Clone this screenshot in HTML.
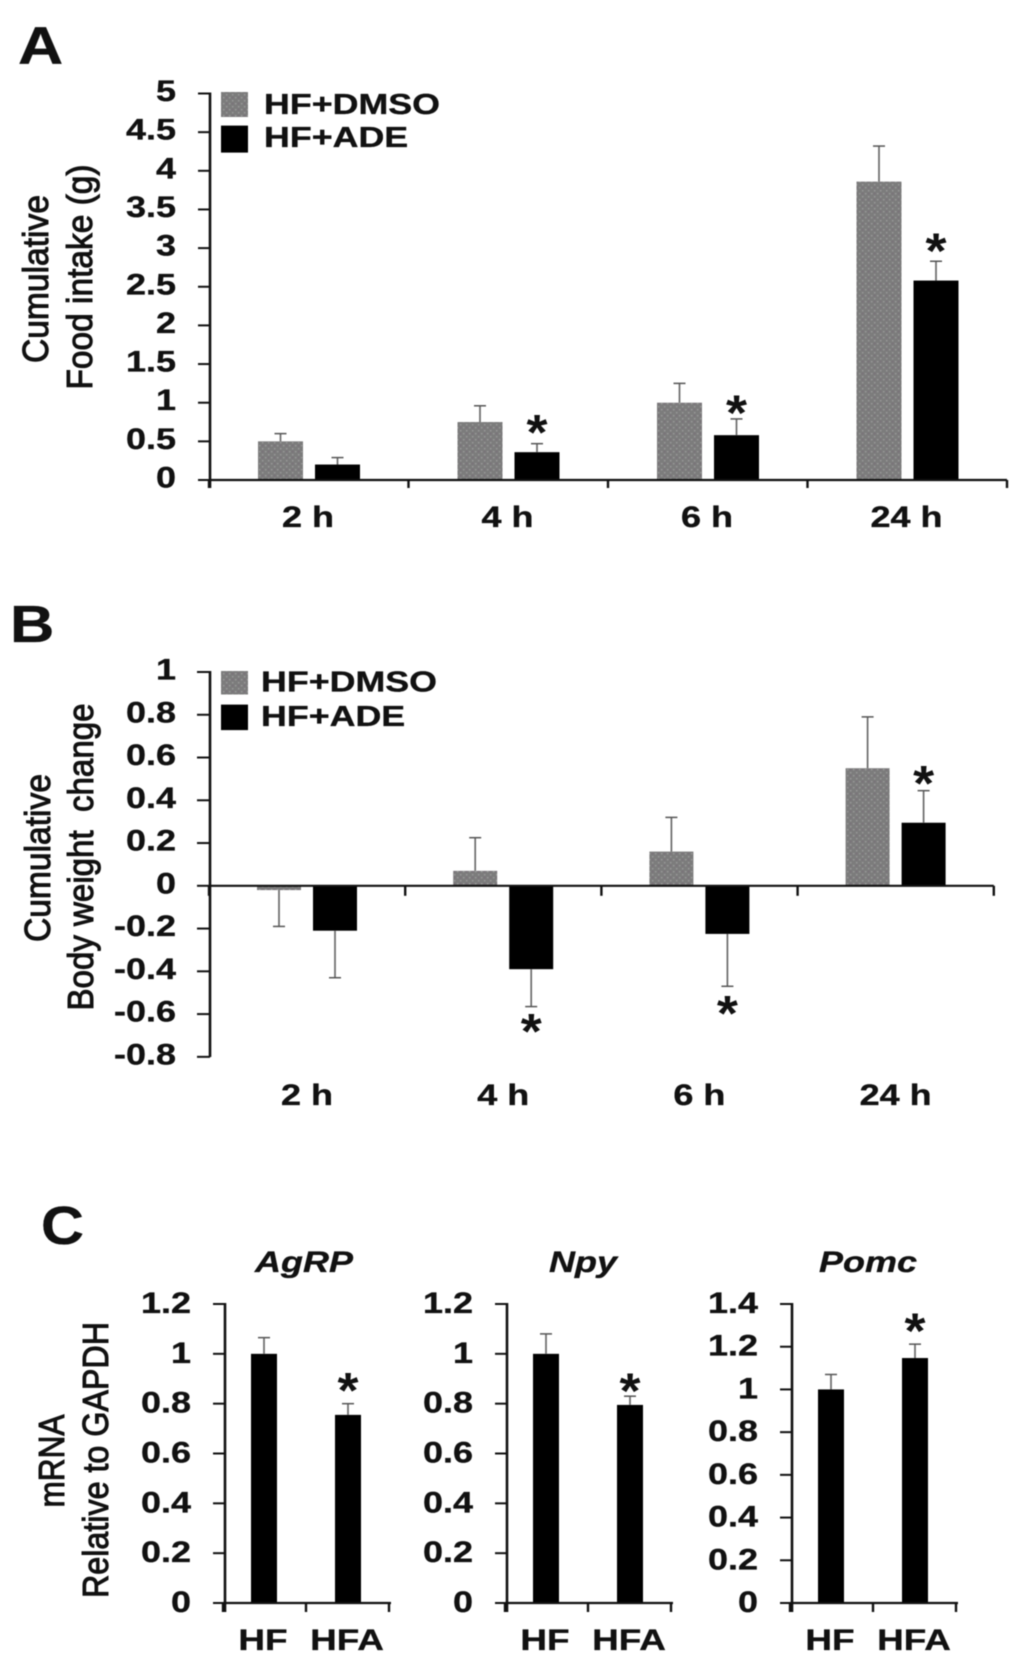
<!DOCTYPE html>
<html lang="en">
<head>
<meta charset="utf-8">
<title>Cumulative food intake, body weight change and mRNA expression</title>
<style>
  html, body { margin: 0; padding: 0; background: #fff; }
  body { width: 1024px; height: 1668px; overflow: hidden; }
  svg { display: block; filter: blur(0.65px); }
  text { font-family: "Liberation Sans", sans-serif; fill: #111; }
</style>
</head>
<body>
<svg id="figure" xmlns="http://www.w3.org/2000/svg" width="1024" height="1668" viewBox="0 0 1024 1668">
  <defs>
    <pattern id="stipple" width="6" height="6" patternUnits="userSpaceOnUse">
      <rect width="6" height="6" fill="#7c7c7c"></rect>
      <rect x="1" y="1" width="1.4" height="1.4" fill="#9c9c9c"></rect>
      <rect x="4" y="4" width="1.4" height="1.4" fill="#9c9c9c"></rect>
      <rect x="4" y="1" width="1.2" height="1.2" fill="#786a78"></rect>
    </pattern>
  </defs>
  <g id="panel-a"></g>
  <g id="panel-b"></g>
  <g id="panel-c"></g>
</svg>
<script>
// Panel A: cumulative food intake (g)
const foodCategories = ['2 h', '4 h', '6 h', '24 h'];
const foodTickLabels = ['0', '0.5', '1', '1.5', '2', '2.5', '3', '3.5', '4', '4.5', '5'];
const foodDmso = [0.5, 0.75, 1.0, 3.86];
const foodAde = [0.2, 0.36, 0.58, 2.58];
const foodDmsoErr = [0.1, 0.21, 0.25, 0.46];
const foodAdeErr = [0.09, 0.11, 0.21, 0.25];
const foodAdeSig = [false, true, true, true];

// Panel B: cumulative body weight change
const weightCategories = ['2 h', '4 h', '6 h', '24 h'];
const weightTickLabels = ['-0.8', '-0.6', '-0.4', '-0.2', '0', '0.2', '0.4', '0.6', '0.8', '1'];
const weightDmso = [-0.02, 0.07, 0.16, 0.55];
const weightAde = [-0.21, -0.39, -0.225, 0.295];
const weightDmsoErr = [0.17, 0.155, 0.16, 0.24];
const weightAdeErr = [0.22, 0.175, 0.245, 0.15];
const weightAdeSig = [false, true, true, true];

// Panel C: mRNA relative to GAPDH
const mrnaCategories = ['HF', 'HFA'];
const agrpTickLabels = ['0', '0.2', '0.4', '0.6', '0.8', '1', '1.2'];
const agrpValues = [1.0, 0.755];
const agrpErr = [0.065, 0.045];
const npyTickLabels = ['0', '0.2', '0.4', '0.6', '0.8', '1', '1.2'];
const npyValues = [1.0, 0.795];
const npyErr = [0.08, 0.035];
const pomcTickLabels = ['0', '0.2', '0.4', '0.6', '0.8', '1', '1.2', '1.4'];
const pomcValues = [1.0, 1.147];
const pomcErr = [0.07, 0.065];

const SVGNS = 'http://www.w3.org/2000/svg';

function shape(parent, tag, attrs) {
  const node = document.createElementNS(SVGNS, tag);
  for (const key in attrs) node.setAttribute(key, attrs[key]);
  parent.appendChild(node);
  return node;
}

function line(parent, x1, y1, x2, y2, stroke, width) {
  return shape(parent, 'line', { x1: x1, y1: y1, x2: x2, y2: y2, stroke: stroke, 'stroke-width': width });
}

function label(parent, str, x, y, size, sx, anchor, extra) {
  const opts = extra || {};
  const node = shape(parent, 'text', {
    transform: 'translate(' + x + ',' + y + ')' + (opts.rotate ? ' rotate(-90)' : '') + ' scale(' + sx + ',1)',
    'font-size': size,
    'font-weight': opts.weight || 'bold',
    'font-style': opts.italic ? 'italic' : 'normal',
    'text-anchor': anchor,
    stroke: '#111',
    'stroke-width': opts.stroke === undefined ? 0.35 : opts.stroke
  });
  node.textContent = str;
  return node;
}

function star(parent, cx, cy) {
  const node = label(parent, '*', cx, cy + 23, 50, 1.08, 'middle', { stroke: 0 });
  
  
  return node;
}

function drawErrorBar(parent, cx, fromY, toY) {
  const g = shape(parent, 'g', {});
  
  
  line(g, cx, fromY, cx, toY, '#6a6a6a', 1.7);
  line(g, cx - 6, toY, cx + 6, toY, '#555', 1.5);
}

function drawLegend(parent, boxX, textX, y1, h1, base1, y2, h2, base2) {
  const a = shape(parent, 'g', {});
  
  
  shape(a, 'rect', { x: boxX, y: y1, width: 27, height: h1, fill: 'url(#stipple)' });
  label(a, 'HF+DMSO', textX, base1, 28.5, 1.256, 'start');
  const b = shape(parent, 'g', {});
  
  
  shape(b, 'rect', { x: boxX, y: y2, width: 27, height: h2, fill: '#000' });
  label(b, 'HF+ADE', textX, base2, 28.5, 1.256, 'start');
}

function drawYAxis(parent, axisX, tickLeft, labelRight, ticks, yScale, top, bottom, labelDy) {
  const axis = shape(parent, 'g', {});
  
  
  line(axis, axisX, top - 1, axisX, bottom, '#111', 2.6);
  ticks.forEach(function (t) {
    const y = yScale(parseFloat(t));
    const tick = line(axis, tickLeft, y, axisX, y, '#111', 2);
    
    
    const text = label(axis, t, labelRight, y + labelDy, 30, 1.2, 'end');
    
    
  });
}

function drawGrouped(panel, cfg) {
  const yScale = function (v) { return cfg.zeroY - v * cfg.unit; };
  drawYAxis(panel, cfg.axisX, cfg.tickLeft, 176, cfg.ticks, yScale, yScale(parseFloat(cfg.ticks[cfg.ticks.length - 1])), cfg.axisBottom, 7.5);
  const zero = yScale(0);

  cfg.categories.forEach(function (cat, i) {
    const start = cfg.startX + i * cfg.step;
    const group = shape(panel, 'g', {});
    
    

    const gv = cfg.dmso[i];
    const gCenter = start + cfg.grayOffset + cfg.barW / 2;
    const gTop = Math.min(yScale(gv), zero);
    const grayBar = shape(group, 'rect', { x: start + cfg.grayOffset, y: gTop, width: cfg.barW, height: Math.abs(yScale(gv) - zero), fill: 'url(#stipple)' });
    
    
    drawErrorBar(group, gCenter, yScale(gv), yScale(gv + (gv < 0 ? -1 : 1) * cfg.dmsoErr[i]));

    const bv = cfg.ade[i];
    const bCenter = start + cfg.blackOffset + cfg.barW / 2;
    const bTop = Math.min(yScale(bv), zero);
    const blackBar = shape(group, 'rect', { x: start + cfg.blackOffset, y: bTop, width: cfg.barW, height: Math.abs(yScale(bv) - zero), fill: '#000' });
    
    
    const bEnd = yScale(bv + (bv < 0 ? -1 : 1) * cfg.adeErr[i]);
    drawErrorBar(group, bCenter, yScale(bv), bEnd);
    if (cfg.sig[i]) star(group, bCenter, bEnd + (bv < 0 ? 1 : -1) * cfg.starGaps[i]);

    const text = label(group, cat, start + cfg.labelOffset, cfg.labelBase, 30, 1.2, 'middle');
    
    
  });

  const xAxis = shape(panel, 'g', {});
  
  
  const end = cfg.startX + cfg.categories.length * cfg.step;
  line(xAxis, cfg.startX, zero, end, zero, '#111', 2.2);
  for (let i = 0; i <= cfg.categories.length; i++) {
    const tx = cfg.startX + i * cfg.step;
    const tick = line(xAxis, tx, zero, tx, zero + cfg.tickLen, '#111', 2.4);
    
    
  }
}

function drawMrna(panel, cfg) {
  const zeroY = 1603;
  const top = 1304;
  const maxTick = parseFloat(cfg.ticks[cfg.ticks.length - 1]);
  const yScale = function (v) { return zeroY - v / maxTick * (zeroY - top); };
  const chart = shape(panel, 'g', {});
  
  

  const title = label(chart, cfg.title, cfg.titleX, 1272, 30, 1.2, 'middle', { italic: true });
  
  

  drawYAxis(chart, cfg.axisX, cfg.axisX - 12, cfg.axisX - 34, cfg.ticks, yScale, top, 1612, 9);

  mrnaCategories.forEach(function (cat, i) {
    const x = cfg.axisX + 26 + i * 84;
    const bar = shape(chart, 'rect', { x: x, y: yScale(cfg.values[i]), width: 26, height: zeroY - yScale(cfg.values[i]), fill: '#000' });
    
    
    const errEnd = yScale(cfg.values[i] + cfg.errors[i]);
    drawErrorBar(chart, x + 13, yScale(cfg.values[i]), errEnd);
    if (i === 1) star(chart, x + 13, errEnd - cfg.starGap);
    const text = label(chart, cat, x + 12, 1650, 30, 1.23, 'middle');
    
    
  });

  const xAxis = shape(chart, 'g', {});
  
  
  line(xAxis, cfg.axisX - 2, zeroY, cfg.axisX + 166, zeroY, '#111', 2.2);
  [0, 83, 166].forEach(function (dx) {
    const tick = line(xAxis, cfg.axisX - 2 + dx, zeroY, cfg.axisX - 2 + dx, 1612, '#111', 2.4);
    
    
  });
}

function axisTitle(parent, str, baseX, centerY, length, size) {
  const node = label(parent, str, baseX, centerY, size, 1, 'middle', { rotate: true, weight: 'normal', stroke: 1.0 });
  node.setAttribute('textLength', length);
  node.setAttribute('lengthAdjust', 'spacingAndGlyphs');
  
  
  return node;
}

function panelLetter(parent, str, x, y, size, sx) {
  const node = label(parent, str, x, y, size, sx, 'start');
  
  
  return node;
}

const panelA = document.getElementById('panel-a');
panelLetter(panelA, 'A', 18, 64, 53, 1.18);
axisTitle(panelA, 'Cumulative', 48, 279, 168, 36);
axisTitle(panelA, 'Food intake (g)', 92, 277, 225, 36);
drawGrouped(panelA, {
  categories: foodCategories, ticks: foodTickLabels, dmso: foodDmso, ade: foodAde,
  dmsoErr: foodDmsoErr, adeErr: foodAdeErr, sig: foodAdeSig,
  zeroY: 480, unit: 77.3, axisX: 210, tickLeft: 198, axisBottom: 488,
  startX: 209, step: 199.5, grayOffset: 49, blackOffset: 106, barW: 45,
  labelOffset: 99, labelBase: 527, tickLen: 8, starGaps: [0, 17, 12, 16]
});
drawLegend(panelA, 221, 264, 92, 25, 114, 125.6, 27, 147);

const panelB = document.getElementById('panel-b');
panelLetter(panelB, 'B', 10, 642, 52, 1.18);
axisTitle(panelB, 'Cumulative', 50, 858, 168, 36);
axisTitle(panelB, 'Body weight\u00A0\u00A0change', 93, 857, 307, 36);
drawGrouped(panelB, {
  categories: weightCategories, ticks: weightTickLabels, dmso: weightDmso, ade: weightAde,
  dmsoErr: weightDmsoErr, adeErr: weightAdeErr, sig: weightAdeSig,
  zeroY: 885.8, unit: 213.8, axisX: 210, tickLeft: 197, axisBottom: 1057,
  startX: 209, step: 196.2, grayOffset: 48, blackOffset: 104, barW: 44,
  labelOffset: 98, labelBase: 1105, tickLen: 10, starGaps: [0, 19, 21, 13]
});
drawLegend(panelB, 221, 261, 671, 23.5, 691.5, 704.6, 25.5, 726);

const panelC = document.getElementById('panel-c');
panelLetter(panelC, 'C', 41, 1244, 54, 1.1);
axisTitle(panelC, 'mRNA', 64, 1461, 93, 36);
axisTitle(panelC, 'Relative to GAPDH', 108, 1460, 276, 36);
drawMrna(panelC, { name: 'agrp-chart', title: 'AgRP', titleX: 304, axisX: 225, ticks: agrpTickLabels, values: agrpValues, errors: agrpErr, starGap: 19 });
drawMrna(panelC, { name: 'npy-chart', title: 'Npy', titleX: 583, axisX: 507, ticks: npyTickLabels, values: npyValues, errors: npyErr, starGap: 11 });
drawMrna(panelC, { name: 'pomc-chart', title: 'Pomc', titleX: 868, axisX: 792, ticks: pomcTickLabels, values: pomcValues, errors: pomcErr, starGap: 19 });
</script>
</body>
</html>
